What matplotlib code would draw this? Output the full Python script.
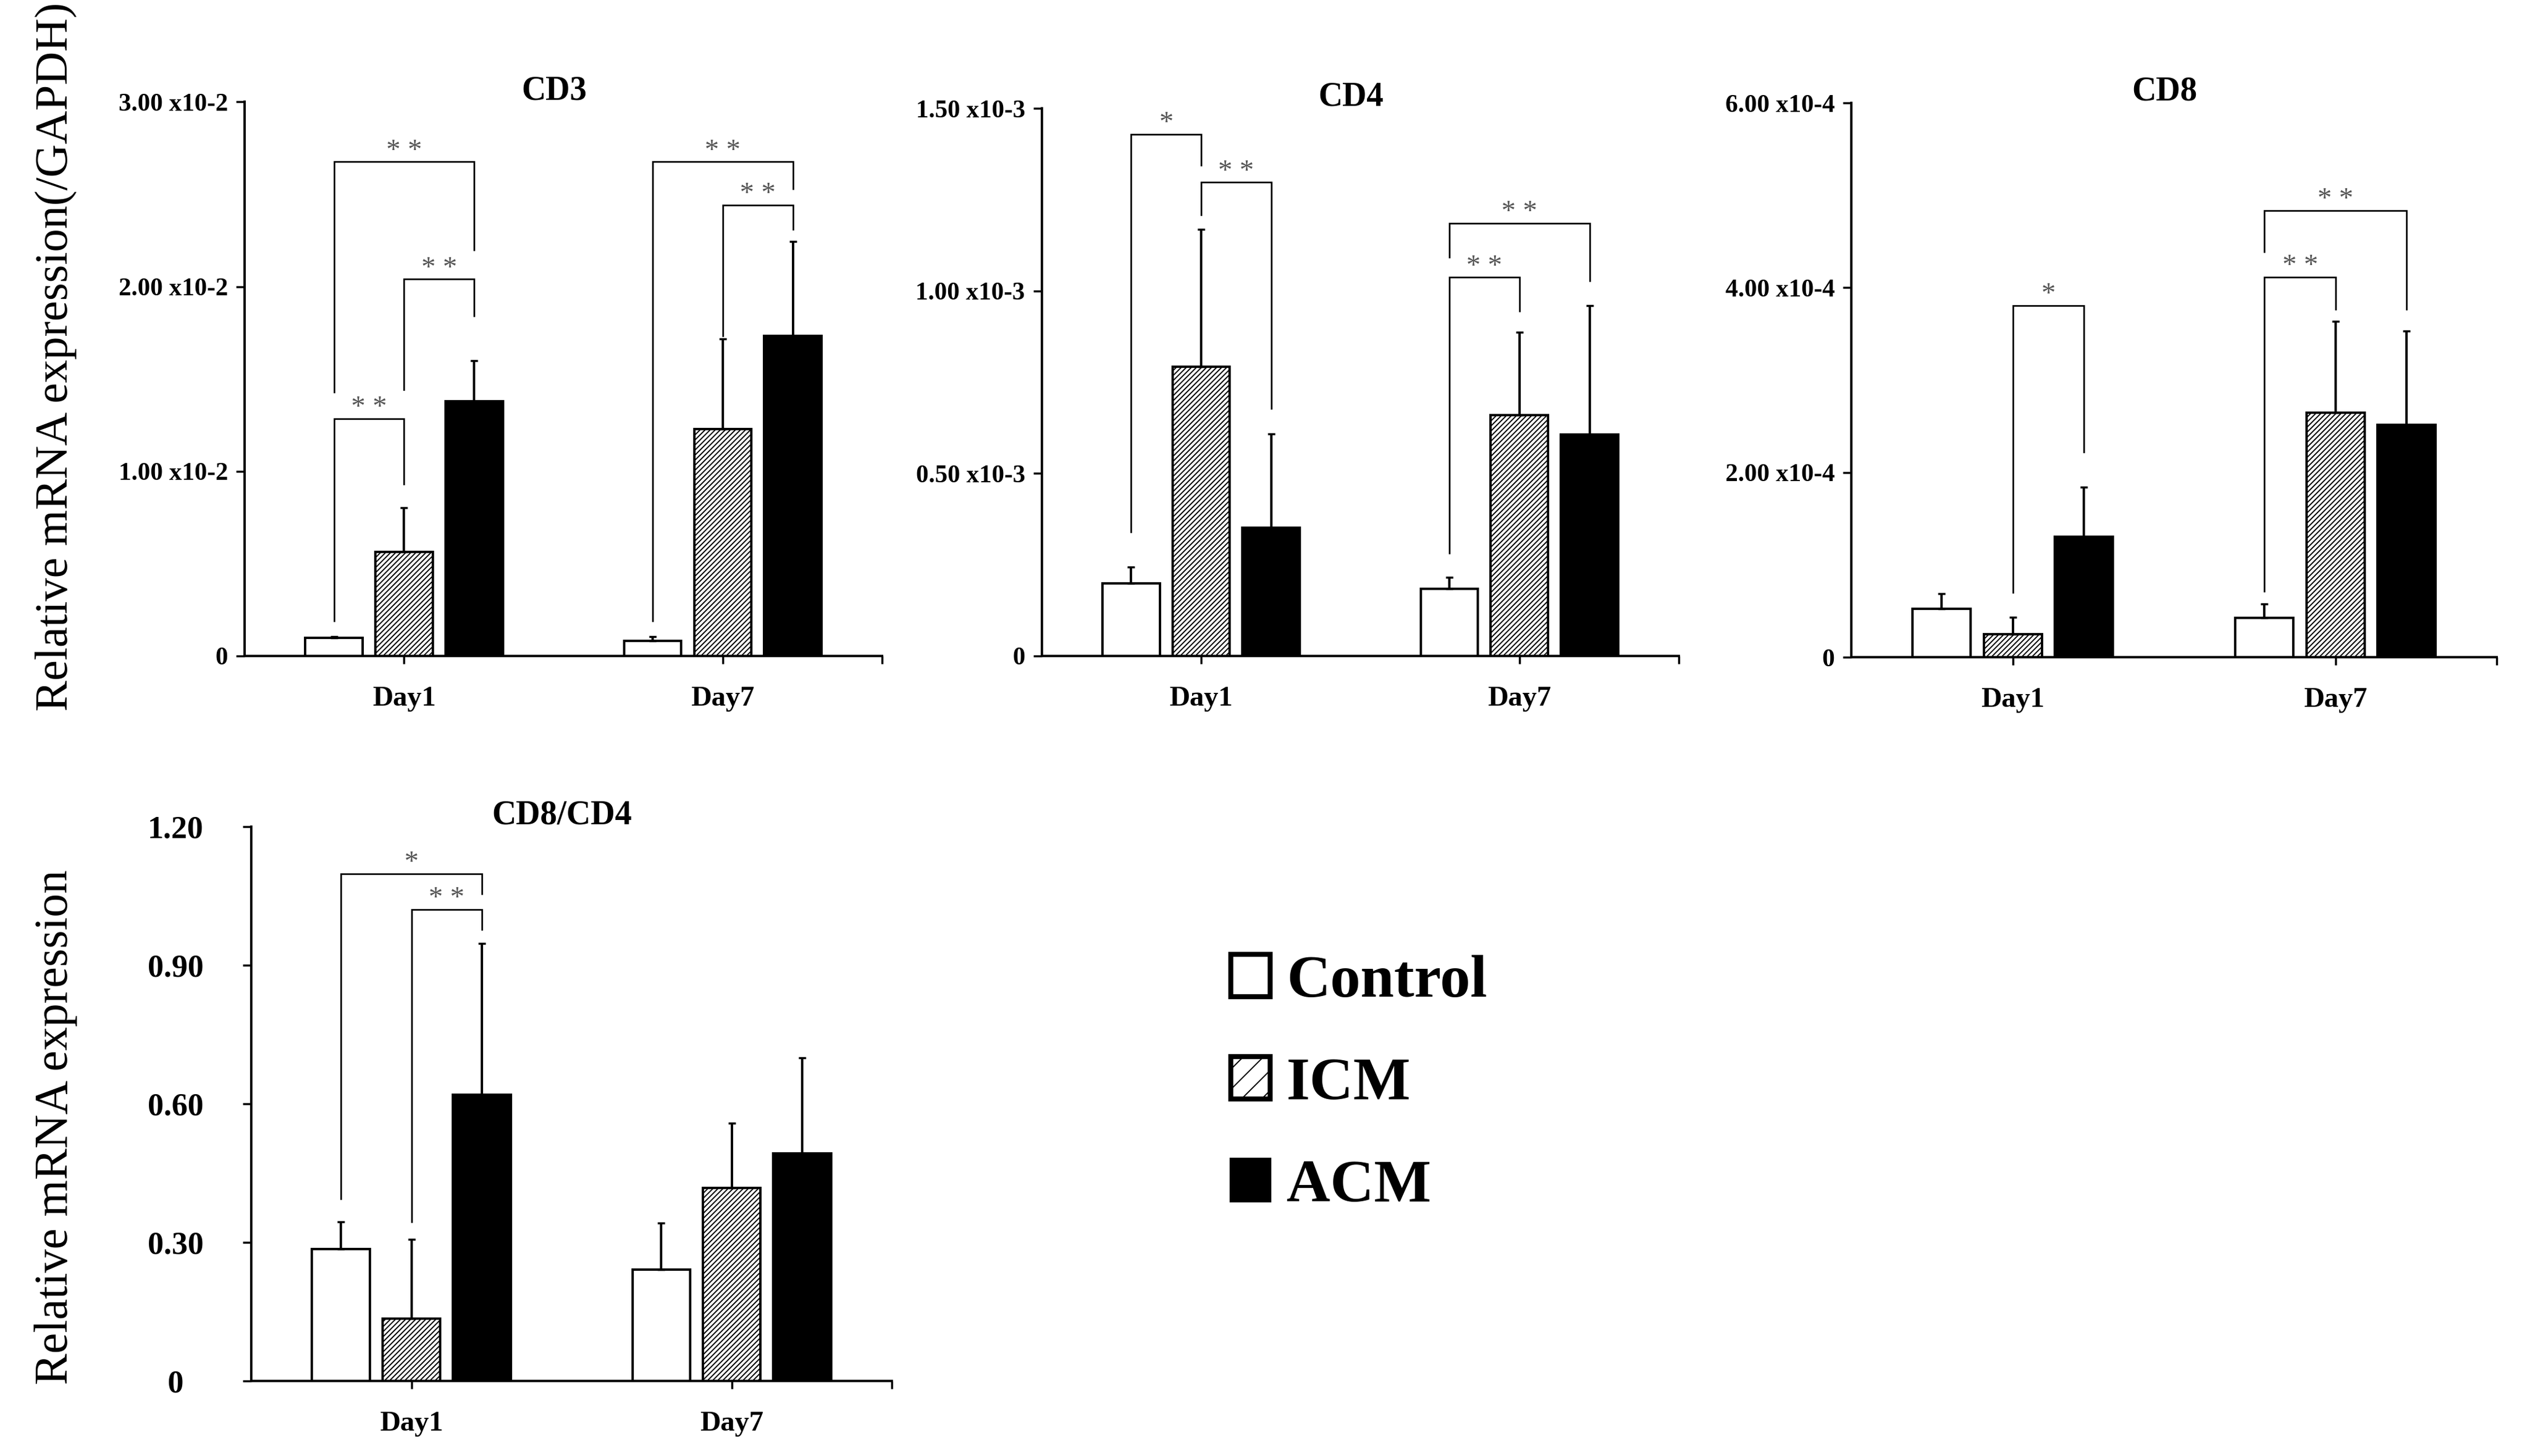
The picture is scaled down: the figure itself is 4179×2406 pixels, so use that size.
import matplotlib.pyplot as plt
import numpy as np

plt.rcParams['font.family'] = ['Liberation Serif', 'DejaVu Serif']
plt.rcParams['hatch.linewidth'] = 1.4

days = ['Day1', 'Day7']
groups = ['Control', 'ICM', 'ACM']

# CD3, units of x10-2
cd3_control = [0.097, 0.080]
cd3_control_err = [0.008, 0.023]
cd3_icm = [0.563, 1.228]
cd3_icm_err = [0.24, 0.49]
cd3_acm = [1.379, 1.733]
cd3_acm_err = [0.22, 0.513]

# CD4, units of x10-3
cd4_control = [0.198, 0.184]
cd4_control_err = [0.046, 0.032]
cd4_icm = [0.793, 0.659]
cd4_icm_err = [0.376, 0.227]
cd4_acm = [0.352, 0.607]
cd4_acm_err = [0.257, 0.353]

# CD8, units of x10-4
cd8_control = [0.524, 0.428]
cd8_control_err = [0.164, 0.147]
cd8_icm = [0.249, 2.644]
cd8_icm_err = [0.183, 0.993]
cd8_acm = [1.304, 2.515]
cd8_acm_err = [0.54, 1.016]

# CD8/CD4 ratio
ratio_control = [0.285, 0.241]
ratio_control_err = [0.06, 0.101]
ratio_icm = [0.135, 0.418]
ratio_icm_err = [0.172, 0.14]
ratio_acm = [0.619, 0.492]
ratio_acm_err = [0.328, 0.207]

# significance brackets: (day, group a, group b, top, a leg bottom, b leg bottom, mark)
cd3_sig = [(0, 0, 1, 1.285, 0.19, 0.93, '* *'),
           (0, 1, 2, 2.04, 1.44, 1.84, '* *'),
           (0, 0, 2, 2.676, 1.43, 2.20, '* *'),
           (1, 0, 2, 2.676, 0.19, 2.53, '* *'),
           (1, 1, 2, 2.441, 1.733, 2.31, '* *')]
cd4_sig = [(0, 0, 1, 1.429, 0.340, 1.345, '*'),
           (0, 1, 2, 1.297, 1.209, 0.677, '* *'),
           (1, 0, 1, 1.037, 0.281, 0.944, '* *'),
           (1, 0, 2, 1.185, 1.092, 1.028, '* *')]
cd8_sig = [(0, 1, 2, 3.806, 0.70, 2.22, '*'),
           (1, 0, 1, 4.115, 0.713, 3.77, '* *'),
           (1, 0, 2, 4.837, 4.39, 3.77, '* *')]
ratio_sig = [(0, 0, 2, 1.098, 0.394, 1.055, '*'),
             (0, 1, 2, 1.0205, 0.345, 0.977, '* *')]

cd3_ticks = [0, 1, 2, 3]
cd3_ticklabels = ['0', '1.00 x10-2', '2.00 x10-2', '3.00 x10-2']
cd4_ticks = [0, 0.5, 1.0, 1.5]
cd4_ticklabels = ['0', '0.50 x10-3', '1.00 x10-3', '1.50 x10-3']
cd8_ticks = [0, 2, 4, 6]
cd8_ticklabels = ['0', '2.00 x10-4', '4.00 x10-4', '6.00 x10-4']
ratio_ticks = [0, 0.3, 0.6, 0.9, 1.2]
ratio_ticklabels = ['0', '0.30', '0.60', '0.90', '1.20']

offsets = [-0.22, 0.0, 0.22]
barw = 0.18
styles = [dict(color='white', edgecolor='black', hatch=None),
          dict(color='white', edgecolor='black', hatch='////'),
          dict(color='black', edgecolor='black', hatch=None)]


def drawPanel(ax, means, errs, sig, ticks, ticklabels, title, tickfs,
              centered=False):
    x = np.arange(len(days))
    bars = []
    for i in range(3):
        st = styles[i]
        b = ax.bar(x + offsets[i], means[i], barw, facecolor=st['color'],
                   edgecolor=st['edgecolor'], hatch=st['hatch'], linewidth=2.8,
                   label=groups[i], zorder=2)
        bars.append(b)
        ax.errorbar(x + offsets[i], means[i], yerr=[np.zeros(len(days)), errs[i]],
                    fmt='none', ecolor='black', elinewidth=2.8, capsize=4,
                    capthick=2.5, zorder=3)
    for d, a, b, top, la, lb, mark in sig:
        xa = d + offsets[a]
        xb = d + offsets[b]
        ax.plot([xa, xa, xb, xb], [la, top, top, lb], color='black', lw=1.9,
                solid_joinstyle='miter', zorder=4)
        ax.annotate(mark, ((xa + xb) / 2, top), xytext=(0, 4),
                    textcoords='offset points', ha='center', va='baseline',
                    fontsize=34, color='#555555')
    ax.set_xlim(-0.5, 1.5)
    ax.set_ylim(0, ticks[-1])
    ax.set_yticks(ticks)
    ax.set_yticklabels(ticklabels, fontsize=tickfs, fontweight='bold',
                       ha='center' if centered else 'right')
    ax.set_xticks(x)
    ax.set_xticklabels(days, fontsize=34, fontweight='bold')
    ax.set_xticks([1.5], minor=True)
    ax.spines['top'].set_visible(False)
    ax.spines['right'].set_visible(False)
    ax.spines['left'].set_linewidth(2.8)
    ax.spines['bottom'].set_linewidth(2.8)
    ax.tick_params(axis='y', length=10, width=2.5, pad=80 if centered else 10)
    ax.tick_params(axis='x', which='both', length=9, width=2.5, pad=27)
    ax.text(0.485, 1.02, title, transform=ax.transAxes, ha='center', va='center',
            fontsize=40, fontweight='bold')
    return bars


fig = plt.figure(figsize=(41.79, 24.06), dpi=100)
ax1 = fig.add_axes([0.0967, 0.5495, 0.252, 0.3805])
ax2 = fig.add_axes([0.4118, 0.5495, 0.2517, 0.3761])
ax3 = fig.add_axes([0.7318, 0.5486, 0.2551, 0.3807])
ax4 = fig.add_axes([0.0993, 0.0515, 0.2532, 0.3808])

bars = drawPanel(ax1, [cd3_control, cd3_icm, cd3_acm],
                 [cd3_control_err, cd3_icm_err, cd3_acm_err],
                 cd3_sig, cd3_ticks, cd3_ticklabels, 'CD3', 30)
drawPanel(ax2, [cd4_control, cd4_icm, cd4_acm],
          [cd4_control_err, cd4_icm_err, cd4_acm_err],
          cd4_sig, cd4_ticks, cd4_ticklabels, 'CD4', 30)
drawPanel(ax3, [cd8_control, cd8_icm, cd8_acm],
          [cd8_control_err, cd8_icm_err, cd8_acm_err],
          cd8_sig, cd8_ticks, cd8_ticklabels, 'CD8', 30)
drawPanel(ax4, [ratio_control, ratio_icm, ratio_acm],
          [ratio_control_err, ratio_icm_err, ratio_acm_err],
          ratio_sig, ratio_ticks, ratio_ticklabels, 'CD8/CD4', 38, centered=True)

fig.text(0.022, 0.755, 'Relative mRNA expression(/GAPDH)', rotation=90,
         ha='center', va='center', fontsize=55)
fig.text(0.022, 0.226, 'Relative mRNA expression', rotation=90,
         ha='center', va='center', fontsize=56)

leg = fig.legend(bars, groups, loc='center left', bbox_to_anchor=(0.4865, 0.2556),
                 frameon=False, prop={'size': 72, 'weight': 'bold'},
                 handlelength=0.65, handleheight=0.7, handletextpad=0.27,
                 labelspacing=0.78, borderpad=0, borderaxespad=0)
handles = leg.legend_handles
handles[0].set_linewidth(6)
handles[1].set_linewidth(6)
handles[1].set_hatch('/')

fig.savefig('out.png', dpi=100)
